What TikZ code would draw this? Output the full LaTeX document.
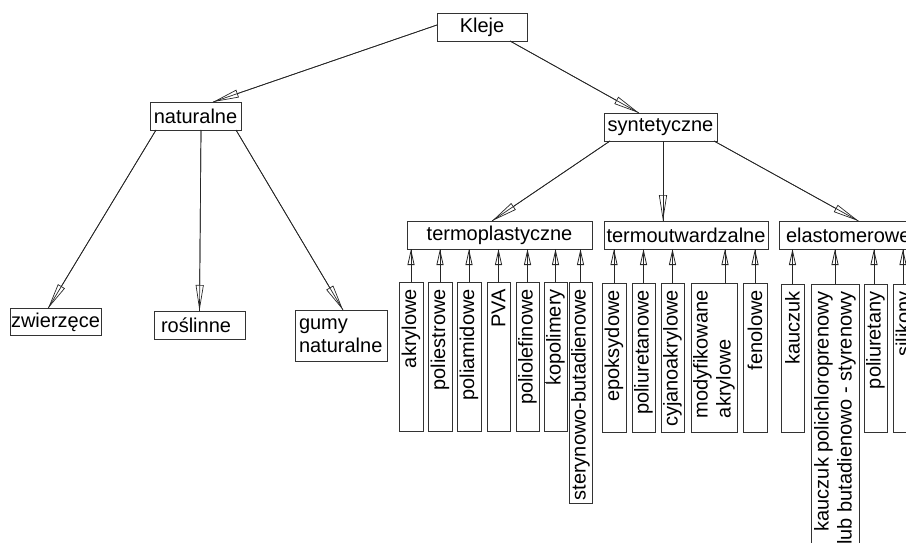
\documentclass[tikz,border=0pt]{standalone}
\usepackage{fontspec}
\setmainfont{Liberation Sans}
\usetikzlibrary{arrows.meta}

\tikzset{
  box/.style={draw=black!80, line width=0.8pt, inner sep=0pt, outer sep=0pt,
              font=\fontsize{20}{23}\selectfont},
  lbl/.style={inner sep=0pt, font=\fontsize{20}{23}\selectfont, rotate=90, anchor=east},
  conn/.style={draw=black!85, line width=0.7pt},
  bigtip/.style={conn, postaction={draw, -{Triangle[open, length=26pt, width=8pt]}}},
  smalltip/.style={conn, line width=0.8pt, postaction={draw, -{Triangle[open, length=16pt, width=7pt]}}},
}

% leaf box with vertical text: name, x0, x1, y0, y1, label options, text
\newcommand\leafbox[7]{%
  \node[box, minimum width={#3-#2}, minimum height={#5-#4}] (#1) at ({(#2+#3)/2},{(#4+#5)/2}) {};
  \node[lbl, #6] (#1-t) at ([yshift=-7pt]#1.north) {#7};
}

\begin{document}
\begin{tikzpicture}[x=1pt, y=-1pt]
\useasboundingbox (0,0) rectangle (906,543);
\clip (0,0) rectangle (906,543);

% upper levels
\node[box, minimum width=90, minimum height=28] (kleje) at (482,27) {Kleje};
\node[box, minimum width=91, minimum height=28] (nat) at (195.5,116) {naturalne};
\node[box, minimum width=113, minimum height=28] (syn) at (660.5,127) {syntetyczne};

% natural adhesives
\node[box, minimum width=91, minimum height=27] (zw) at (55.5,322) {zwierzęce};
\node[box, minimum width=91, minimum height=28, text width=77pt, inner xsep=7pt, align=left] (ros) at (199.5,325) {roślinne};
\node[box, minimum width=92, minimum height=51, text width=84pt, inner xsep=4pt, align=left] (gum) at (341,335.5) {gumy\\naturalne};

% synthetic groups
\node[box, minimum width=185, minimum height=28] (tp) at (499.5,235) {termoplastyczne};
\node[box, minimum width=164, minimum height=28] (tu) at (686,235) {termoutwardzalne};
\node[box, minimum height=28, text width=132pt, inner xsep=7pt, align=left, anchor=west] (el) at (779,235) {elastomerowe};

% thermoplastic
\leafbox{akr}{399}{423}{282}{431}{}{akrylowe}
\leafbox{pes}{428}{452}{282}{431}{}{poliestrowe}
\leafbox{pam}{457}{481}{282}{431}{}{poliamidowe}
\leafbox{pva}{487}{510}{282}{431}{}{PVA}
\leafbox{pol}{516}{539}{282}{431}{}{poliolefinowe}
\leafbox{kop}{544}{567}{282}{431}{}{kopolimery}
\leafbox{ste}{569}{592}{282}{503}{}{sterynowo-butadienowe}
\draw[conn] (kop.west |- 0,382) -- ++(10,0);

% thermosetting
\leafbox{epo}{602}{626}{283}{432}{}{epoksydowe}
\leafbox{pur}{632}{655}{283}{432}{}{poliuretanowe}
\leafbox{cyj}{661}{684}{283}{432}{}{cyjanoakrylowe}
\leafbox{mod}{691}{737}{283}{432}{align=left}{modyfikowane\\akrylowe}
\leafbox{fen}{743}{767}{283}{432}{}{fenolowe}

% elastomeric
\leafbox{kau}{781}{804}{284}{432}{}{kauczuk}
\leafbox{kpc}{811}{859}{284}{560}{align=right}{kauczuk polichloroprenowy\\lub butadienowo - styrenowy}
\leafbox{pun}{864}{887}{284}{432}{}{poliuretany}
\leafbox{sil}{893}{917}{284}{432}{}{silikony}

% connectors between levels
\draw[bigtip] ([yshift=2pt]kleje.west) -- ([xshift=17.5pt]nat.north);
\draw[bigtip] ([xshift=28pt]kleje.south) -- ([xshift=-21.5pt]syn.north);

\draw[bigtip] ([xshift=-39.5pt]nat.south) -- ([xshift=-7.5pt]zw.north);
\draw[bigtip] ([xshift=5.5pt]nat.south) -- (ros.north);
\draw[bigtip] ([xshift=40.5pt]nat.south) -- ([xshift=2pt]gum.north);

\draw[bigtip] ([xshift=-50.5pt]syn.south) -- ([xshift=-7.5pt]tp.north);
\draw[bigtip] ([xshift=2.5pt]syn.south) -- ([xshift=2.5pt]syn.south |- tu.north);
\draw[bigtip] ([xshift=53.5pt]syn.south) -- ([xshift=6.5pt]el.north);

% leaves to their groups
\foreach \n in {akr,pes,pam,pva,pol,kop,ste}
  \draw[smalltip] (\n.north) -- (\n.north |- tp.south);
\foreach \n in {epo,pur,cyj,fen}
  \draw[smalltip] (\n.north) -- (\n.north |- tu.south);
\draw[smalltip] ([xshift=11pt]mod.north) -- ([xshift=11pt]mod.north |- tu.south);
\foreach \n in {kau,kpc}
  \draw[smalltip] (\n.north) -- (\n.north |- el.south);
\draw[smalltip] ([xshift=-1.5pt]pun.north) -- ([xshift=-1.5pt]pun.north |- el.south);
\draw[smalltip] ([xshift=-2pt]sil.north) -- ([xshift=-2pt]sil.north |- el.south);
\end{tikzpicture}
\end{document}
